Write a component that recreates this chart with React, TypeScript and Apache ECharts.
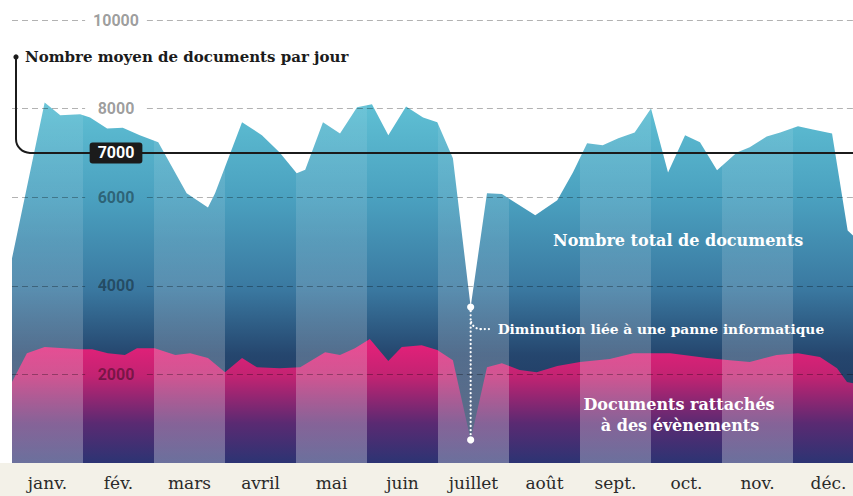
import React, { useEffect, useRef } from "react";
import * as echarts from "echarts";

// ---- Data (time in months since 1 January) ----
const monthLabels = ["janv.", "fév.", "mars", "avril", "mai", "juin", "juillet", "août", "sept.", "oct.", "nov.", "déc."];
const yTicks = [2000, 4000, 6000, 8000, 10000];
const lightMonths = [0, 2, 4, 6, 8, 10];

const totalT = [0.0, 0.46, 0.68, 0.96, 1.1, 1.34, 1.56, 1.8, 2.06, 2.46, 2.76, 2.86, 3.24, 3.52, 3.77, 4.01, 4.13, 4.38, 4.62, 4.86, 5.07, 5.3, 5.55, 5.79, 5.99, 6.21, 6.46, 6.69, 6.9, 7.37, 7.68, 7.9, 8.1, 8.32, 8.54, 8.77, 9.0, 9.24, 9.48, 9.69, 9.93, 10.21, 10.39, 10.63, 10.82, 11.07, 11.28, 11.55, 11.77, 12.0];
const totalV = [4620, 8140, 7850, 7870, 7800, 7550, 7570, 7400, 7240, 6090, 5770, 6090, 7690, 7400, 7010, 6540, 6620, 7690, 7440, 8030, 8100, 7400, 8050, 7800, 7690, 6880, 3520, 6090, 6070, 5590, 5930, 6560, 7220, 7170, 7330, 7460, 8000, 6560, 7400, 7240, 6610, 7010, 7130, 7370, 7460, 7600, 7530, 7440, 5250, 4900];

const eventT = [0.0, 0.21, 0.46, 0.96, 1.13, 1.35, 1.59, 1.76, 2.01, 2.3, 2.51, 2.76, 3.0, 3.24, 3.45, 3.77, 4.06, 4.41, 4.62, 4.83, 5.04, 5.3, 5.49, 5.77, 5.99, 6.21, 6.46, 6.69, 6.9, 7.15, 7.39, 7.68, 8.0, 8.42, 8.75, 8.99, 9.27, 9.79, 10.11, 10.39, 10.77, 11.07, 11.38, 11.62, 11.76, 12.0];
const eventV = [1830, 2480, 2620, 2570, 2570, 2480, 2440, 2590, 2590, 2440, 2480, 2370, 2050, 2370, 2160, 2140, 2160, 2500, 2440, 2590, 2800, 2300, 2620, 2660, 2550, 2320, 520, 2160, 2250, 2100, 2050, 2190, 2280, 2350, 2480, 2480, 2480, 2370, 2320, 2280, 2440, 2480, 2390, 2140, 1830, 1750];

const averagePerDay = 7000;
const outage = [6.46, 3520, 520]; // time, total, events

const SERIF = '"DejaVu Serif", serif';

function buildOption() {
  const totalData = totalT.map((t, i) => [t, totalV[i]]);
  const eventData = eventT.map((t, i) => [t, eventV[i]]);

  const gridSegs: any[] = [];
  yTicks.forEach((v) => {
    gridSegs.push([{ xAxis: 0, yAxis: v }, { xAxis: 1.03, yAxis: v }]);
    gridSegs.push([{ xAxis: 1.9, yAxis: v }, { xAxis: 12, yAxis: v }]);
  });

  const centered = { align: "center", verticalAlign: "middle", textAlign: "center", textVerticalAlign: "middle" };

  return {
    animation: false,
    grid: { left: 12, right: 0, top: 20, bottom: 33 },
    xAxis: [
      { type: "value", min: 0, max: 12, show: false },
      {
        type: "category",
        data: monthLabels,
        boundaryGap: true,
        position: "bottom",
        z: 5,
        axisLine: { show: false },
        axisTick: { show: false },
        splitLine: { show: false },
        axisLabel: { color: "#2a2a2a", fontFamily: SERIF, fontSize: 17, margin: 11, interval: 0 },
      },
    ],
    yAxis: {
      type: "value",
      min: 0,
      max: 10000,
      interval: 2000,
      z: 10,
      axisLine: { show: false },
      axisTick: { show: false },
      splitLine: { show: false },
      axisLabel: {
        inside: true,
        margin: 104,
        align: "center",
        verticalAlign: "middle",
        color: "rgba(0,0,0,0.4)",
        fontFamily: "Roboto",
        fontWeight: "bold",
        fontSize: 16,
        formatter: (v: number) => (v === 0 ? "" : String(v)),
      },
    },
    graphic: [
      { type: "rect", left: 0, bottom: 0, z: -1, shape: { width: 864, height: 33 }, style: { fill: "#f3f1e8" } },
      {
        type: "text", left: 25, top: 49, z: 20,
        style: { text: "Nombre moyen de documents par jour", fill: "#1b1b1b", font: `bold 15px ${SERIF}` },
      },
      {
        type: "text", left: 553, top: 232, z: 20,
        style: { text: "Nombre total de documents", fill: "#ffffff", font: `bold 16px ${SERIF}` },
      },
      {
        type: "text", x: 679, y: 404, z: 20,
        style: { text: "Documents rattachés", fill: "#ffffff", font: `bold 16px ${SERIF}`, ...centered },
      },
      {
        type: "text", x: 680, y: 425, z: 20,
        style: { text: "à des évènements", fill: "#ffffff", font: `bold 16px ${SERIF}`, ...centered },
      },
    ],
    series: [
      {
        name: "Nombre total de documents",
        type: "line",
        xAxisIndex: 0,
        data: totalData,
        symbol: "none",
        z: 2,
        lineStyle: { width: 0 },
        areaStyle: {
          opacity: 1,
          color: new echarts.graphic.LinearGradient(0, 0, 0, 1, [
            { offset: 0, color: "#5fc0d4" },
            { offset: 0.27, color: "#4aa0bf" },
            { offset: 0.52, color: "#3a78a0" },
            { offset: 0.7, color: "#25466e" },
            { offset: 1, color: "#1c2c55" },
          ]),
        },
      },
      {
        name: "Documents rattachés à des évènements",
        type: "line",
        xAxisIndex: 0,
        data: eventData,
        symbol: "none",
        z: 2,
        lineStyle: { width: 0 },
        areaStyle: {
          opacity: 1,
          color: new echarts.graphic.LinearGradient(0, 0, 0, 1, [
            { offset: 0, color: "#e8207a" },
            { offset: 0.3, color: "#c22372" },
            { offset: 0.68, color: "#5a2a72" },
            { offset: 1, color: "#2c3473" },
          ]),
        },
      },
      {
        name: "bands",
        type: "custom",
        xAxisIndex: 0,
        z: 3,
        silent: true,
        data: lightMonths.map((m) => [m, 0]),
        renderItem: (params: any, api: any) => {
          const m = api.value(0);
          const p0 = api.coord([m, 10000]);
          const p1 = api.coord([m + 1, 0]);
          return {
            type: "rect",
            shape: { x: p0[0], y: p0[1], width: p1[0] - p0[0], height: p1[1] - p0[1] },
            style: {
              fill: new echarts.graphic.LinearGradient(0, 0, 0, 1, [
                { offset: 0, color: "rgba(255,255,255,0.06)" },
                { offset: 0.5, color: "rgba(255,255,255,0.12)" },
                { offset: 1, color: "rgba(255,255,255,0.3)" },
              ]),
            },
          };
        },
      },
      {
        name: "grid",
        type: "line",
        xAxisIndex: 0,
        data: [],
        z: 4,
        silent: true,
        markLine: {
          silent: true,
          symbol: "none",
          label: { show: false },
          lineStyle: { color: "rgba(0,0,0,0.3)", width: 1, type: [6, 4] },
          data: gridSegs,
        },
      },
      {
        name: "moyenne",
        type: "custom",
        xAxisIndex: 0,
        z: 8,
        silent: true,
        data: [[0, averagePerDay]],
        renderItem: (params: any, api: any) => {
          const cs = params.coordSys;
          const y = api.coord([0, api.value(1)])[1];
          const x0 = cs.x + 4;
          const yTop = cs.y + 37;
          const r = 14;
          const right = cs.x + cs.width;
          const st = { stroke: "#1b1b1b", lineWidth: 2, fill: null };
          return {
            type: "group",
            children: [
              { type: "line", shape: { x1: x0, y1: yTop, x2: x0, y2: y - r }, style: st },
              { type: "arc", shape: { cx: x0 + r, cy: y - r, r, startAngle: Math.PI / 2, endAngle: Math.PI, clockwise: true }, style: st },
              { type: "line", shape: { x1: x0 + r, y1: y, x2: right, y2: y }, style: st },
              { type: "circle", shape: { cx: x0, cy: yTop, r: 2.6 }, style: { fill: "#1b1b1b" } },
              {
                type: "text",
                x: cs.x + 104,
                y,
                style: {
                  text: String(api.value(1)),
                  fill: "#ffffff",
                  font: "bold 16px Roboto",
                  ...centered,
                  backgroundColor: "#1b1b1b",
                  padding: [3, 8, 2, 8],
                  borderRadius: 3,
                },
              },
            ],
          };
        },
      },
      {
        name: "panne",
        type: "custom",
        xAxisIndex: 0,
        z: 8,
        silent: true,
        data: [outage],
        renderItem: (params: any, api: any) => {
          const a = api.coord([api.value(0), api.value(1)]);
          const b = api.coord([api.value(0), api.value(2)]);
          const dot = { stroke: "#ffffff", lineWidth: 2.2, lineDash: [0.1, 4], lineCap: "round", fill: null };
          const cy = a[1] + 12;
          const r = 10;
          return {
            type: "group",
            children: [
              { type: "line", shape: { x1: a[0], y1: a[1], x2: b[0], y2: b[1] }, style: dot },
              { type: "arc", shape: { cx: a[0] + r, cy, r, startAngle: Math.PI / 2, endAngle: Math.PI, clockwise: true }, style: dot },
              { type: "line", shape: { x1: a[0] + r, y1: cy + r, x2: a[0] + 21, y2: cy + r }, style: dot },
              { type: "circle", shape: { cx: a[0], cy: a[1], r: 3.6 }, style: { fill: "#ffffff" } },
              { type: "circle", shape: { cx: b[0], cy: b[1], r: 3.6 }, style: { fill: "#ffffff" } },
              {
                type: "text",
                x: a[0] + 27,
                y: cy + r,
                style: {
                  text: "Diminution liée à une panne informatique",
                  fill: "#ffffff",
                  font: `bold 13.8px ${SERIF}`,
                  align: "left", verticalAlign: "middle", textAlign: "left", textVerticalAlign: "middle",
                },
              },
            ],
          };
        },
      },
    ],
  };
}

export default function App() {
  const ref = useRef<HTMLDivElement>(null);
  useEffect(() => {
    const chart = echarts.init(ref.current!, null, { renderer: "svg" });
    chart.setOption(buildOption() as any);
    return () => chart.dispose();
  }, []);
  return (
    <div style={{ position: "fixed", left: 0, top: 0, width: 853, height: 496, overflow: "hidden", background: "#ffffff" }}>
      <div ref={ref} style={{ width: 864, height: 496 }} />
    </div>
  );
}
